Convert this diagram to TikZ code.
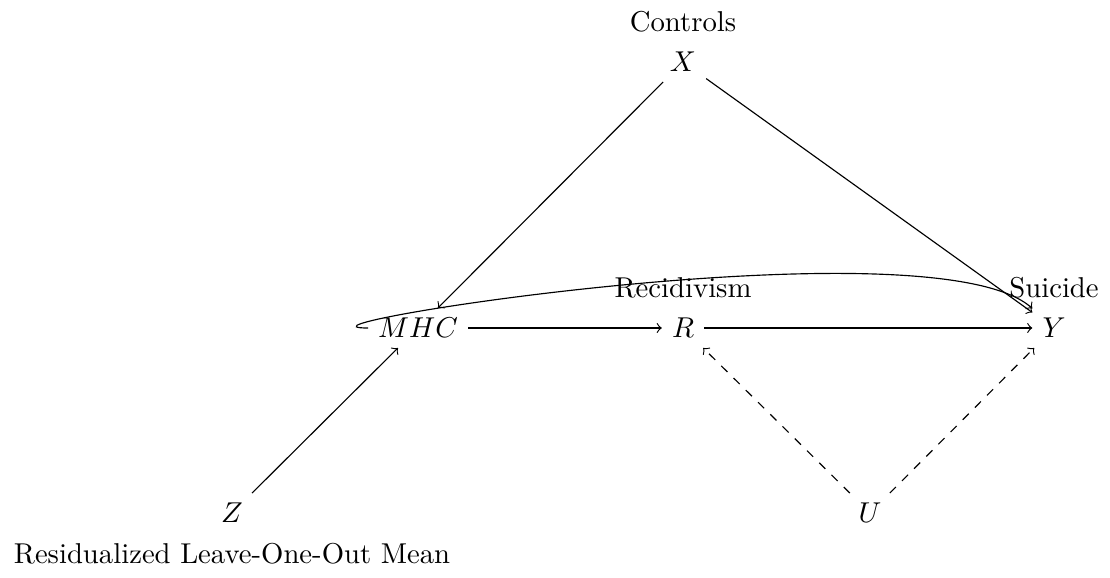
\documentclass[tikz,border=0pt]{standalone}
\begin{document}
\begin{tikzpicture}[x=0.3484pt, y=0.3484pt,
  var/.style={inner sep=3.33pt},
  arr/.style={->},
  darr/.style={->, dashed}]
\useasboundingbox (0,0) rectangle (1110,577);
\node[var, label=above:Controls] (X) at (683,515) {$X$};
\node[var] (MHC) at (418,249) {$MHC$};
\node[var, label=above:Recidivism] (R) at (683,249) {$R$};
\node[var, label=above:Suicide] (Y) at (1054,249) {$Y$};
\node[var, label=below:Residualized Leave-One-Out Mean] (Z) at (232,64) {$Z$};
\node[var] (U) at (870,64) {$U$};
\draw[arr] (X) -- (MHC);
\draw[arr] (X) -- (Y);
\draw[arr] (MHC) -- (R);
\draw[arr] (R) -- (Y);
\draw[arr] (Z) -- (MHC);
\draw[darr] (U) -- (R);
\draw[darr] (U) -- (Y);
\draw[arr] (MHC) to[out=180, in=138, out distance=38pt, in distance=46pt] (Y);
\end{tikzpicture}
\end{document}
